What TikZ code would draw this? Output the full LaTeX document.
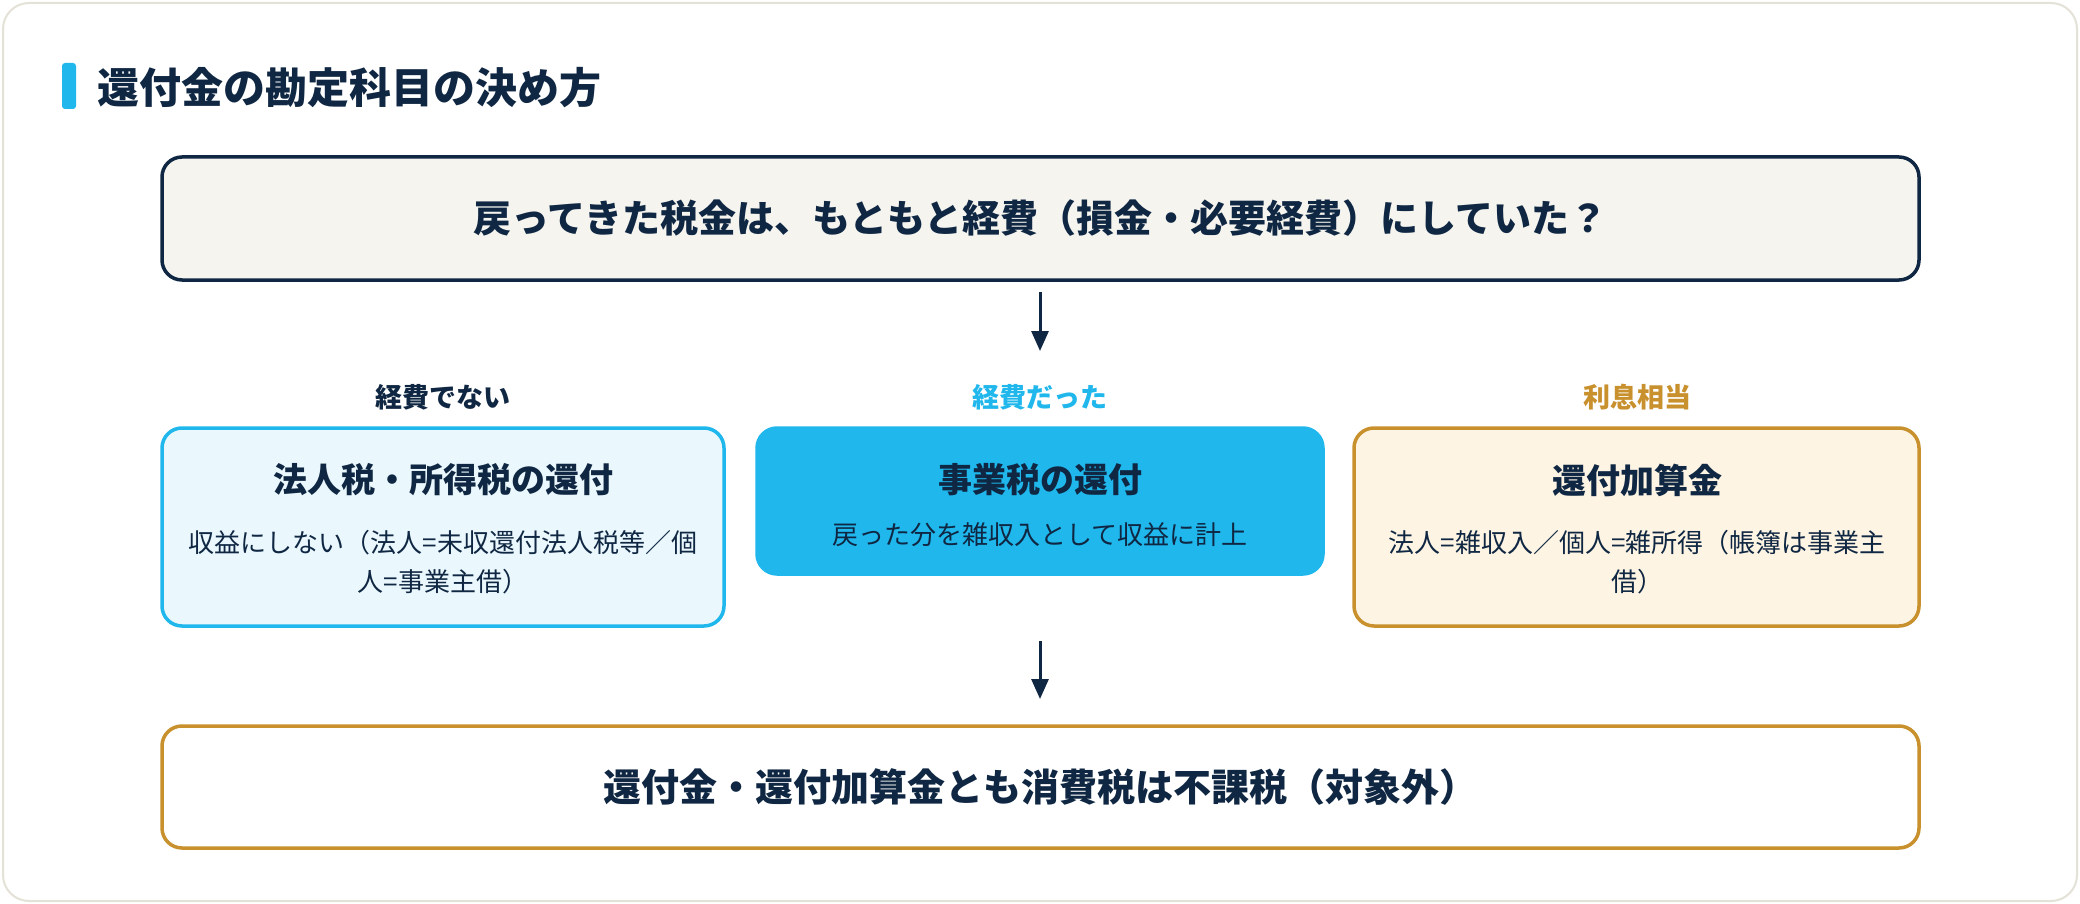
\documentclass[tikz,border=0pt]{standalone}
\usepackage{fontspec}
\setmainfont{Noto Sans CJK JP}
\usetikzlibrary{arrows.meta}
\definecolor{navy}{HTML}{0F2742}
\definecolor{cyanc}{HTML}{1FB7EC}
\definecolor{gold}{HTML}{C8912E}
\definecolor{lcyan}{HTML}{EAF7FD}
\definecolor{cream}{HTML}{FDF4E4}
\definecolor{topfill}{HTML}{F5F4EF}
\definecolor{cardline}{HTML}{E4E1D6}
\tikzset{
  box/.style={rectangle, rounded corners=20pt, line width=3.5pt, inner sep=0pt},
  bigtxt/.style={text=navy, font=\fontsize{38}{46}\selectfont\bfseries},
  lbl/.style={font=\fontsize{27}{32}\selectfont\bfseries},
  ttl/.style={text=navy, font=\fontsize{34}{40}\selectfont\bfseries},
  sub/.style={text=navy, align=center, font=\fontsize{26}{38.5}\selectfont},
  arr/.style={draw=navy, line width=3pt, -{Triangle[length=20pt,width=17pt]}}
}
\begin{document}
\begin{tikzpicture}[x=1pt,y=-1pt]
\useasboundingbox (0,0) rectangle (2080,904);
\fill[white] (0,0) rectangle (2080,904);
\draw[cardline, line width=2pt, fill=white, rounded corners=26pt] (3,3) rectangle (2077,901);
% title
\fill[cyanc, rounded corners=3pt] (62,63) rectangle (76,109);
\node[anchor=west, text=navy, font=\fontsize{42}{50}\selectfont\bfseries, inner sep=0pt] (title) at (97,88) {還付金の勘定科目の決め方};
% question
\node[box, draw=navy, fill=topfill, minimum width=1757, minimum height=123] (q) at (1040.5,218.5) {};
\node[bigtxt] (qt) at (q) {戻ってきた税金は、もともと経費（損金・必要経費）にしていた？};
\coordinate (a1s) at (1040,292);
\coordinate (a1e) at (1040,351);
\draw[arr] (a1s) -- (a1e);
% labels
\node[lbl, text=navy] (l1) at (443,397) {経費でない};
\node[lbl, text=cyanc] (l2) at (1040,397) {経費だった};
\node[lbl, text=gold] (l3) at (1637,397) {利息相当};
% left box
\node[box, draw=cyanc, fill=lcyan, minimum width=562, minimum height=198] (b1) at (443,527) {};
\node[ttl] (b1t) at (443,480) {法人税・所得税の還付};
\node[sub] (b1s) at (443,562) {収益にしない（法人=未収還付法人税等／個\\人=事業主借）};
% middle box
\node[box, draw=cyanc, fill=cyanc, minimum width=566, minimum height=146] (b2) at (1040,501) {};
\node[ttl] (b2t) at (1040,480) {事業税の還付};
\node[sub] (b2s) at (1040,535) {戻った分を雑収入として収益に計上};
% right box
\node[box, draw=gold, fill=cream, minimum width=565, minimum height=198] (b3) at (1636.5,527) {};
\node[ttl] (b3t) at (1637,480) {還付加算金};
\node[sub] (b3s) at (1637,562) {法人=雑収入／個人=雑所得（帳簿は事業主\\借）};
% arrow 2
\coordinate (a2s) at (1040,641);
\coordinate (a2e) at (1040,699);
\draw[arr] (a2s) -- (a2e);
% bottom
\node[box, draw=gold, fill=white, minimum width=1757, minimum height=122] (bt) at (1040.5,787) {};
\node[bigtxt] (btt) at (bt) {還付金・還付加算金とも消費税は不課税（対象外）};
\end{tikzpicture}
\end{document}
